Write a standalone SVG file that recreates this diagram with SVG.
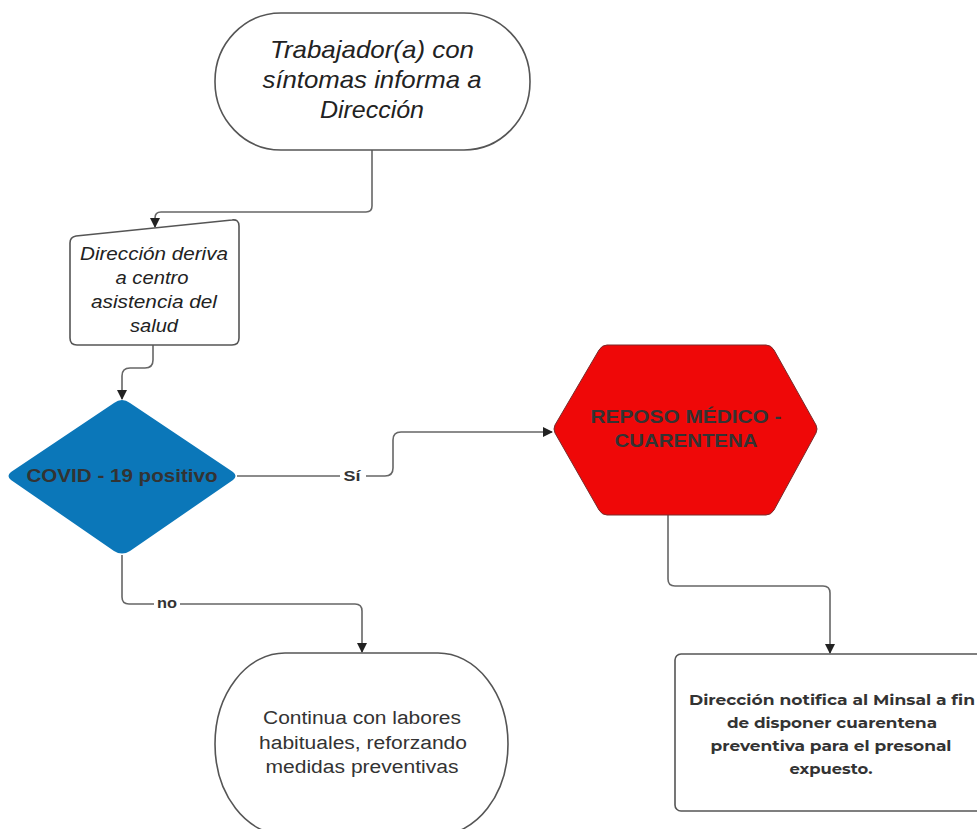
<svg xmlns="http://www.w3.org/2000/svg" width="977" height="829" viewBox="0 0 977 829">
<style>
.shape{stroke:#555;stroke-width:1.6;fill:#fff}
.conn{fill:none;stroke:#666;stroke-width:1.6}
.it{font-family:"Liberation Sans",Arial,sans-serif;font-style:italic;fill:#222;text-anchor:middle}
.bd{font-family:"Liberation Sans",Arial,sans-serif;font-weight:bold;fill:#333;text-anchor:middle}
.nm{font-family:"Liberation Sans",Arial,sans-serif;fill:#333;text-anchor:middle}
.mt{font-family:"Montserrat","Open Sans","Liberation Sans",sans-serif;font-weight:bold;fill:#333;text-anchor:middle}
</style>
<defs>
<marker id="arr" markerWidth="10" markerHeight="10" refX="9" refY="5" orient="auto" markerUnits="userSpaceOnUse">
<path d="M0,0 L10,5 L0,10 Z" fill="#222"/>
</marker>
</defs>
<rect width="977" height="829" fill="#fff"/>
<g id="connectors">
<path class="conn" d="M372,150 V206 Q372,212 366,212 H161 Q155,212 155,218 V227" marker-end="url(#arr)"/>
<path class="conn" d="M153,345 V360 Q153,368 145,368 H130 Q122,368 122,376 V399" marker-end="url(#arr)"/>
<path class="conn" d="M237,476 H385 Q393,476 393,468 V440 Q393,432 401,432 H552" marker-end="url(#arr)"/>
<path class="conn" d="M668,515 V579 Q668,586 675,586 H823 Q830,586 830,593 V653" marker-end="url(#arr)"/>
<path class="conn" d="M122,555 V597 Q122,604 129,604 H355 Q362,604 362,611 V652" marker-end="url(#arr)"/>
<rect x="340" y="466" width="26" height="18" fill="#fff"/>
<text class="bd" x="352" y="481" font-size="15" textLength="17" lengthAdjust="spacingAndGlyphs">Sí</text>
<rect x="154" y="595" width="26" height="16" fill="#fff"/>
<text class="bd" x="167" y="608" font-size="14" textLength="20" lengthAdjust="spacingAndGlyphs">no</text>
</g>
<g id="n1">
<rect class="shape" x="215" y="13" width="315" height="137" rx="66" ry="68"/>
<text class="it" x="372" y="58" font-size="24" textLength="204" lengthAdjust="spacingAndGlyphs">Trabajador(a) con</text>
<text class="it" x="372" y="88" font-size="24" textLength="219" lengthAdjust="spacingAndGlyphs">síntomas informa a</text>
<text class="it" x="372" y="118" font-size="24" textLength="104" lengthAdjust="spacingAndGlyphs">Dirección</text>
</g>
<g id="n2">
<path class="shape" d="M76,236 L232,220 Q239,219 239,226 V338 Q239,345 232,345 H77 Q70,345 70,338 V243 Q70,237 76,236 Z"/>
<text class="it" x="154" y="260" font-size="18" textLength="148" lengthAdjust="spacingAndGlyphs">Dirección deriva</text>
<text class="it" x="152" y="284" font-size="18" textLength="73" lengthAdjust="spacingAndGlyphs">a centro</text>
<text class="it" x="154" y="308" font-size="18" textLength="126" lengthAdjust="spacingAndGlyphs">asistencia del</text>
<text class="it" x="154" y="332" font-size="18" textLength="48" lengthAdjust="spacingAndGlyphs">salud</text>
</g>
<g id="n3">
<path d="M122,400 Q126,400 130,403 L233,472 Q238,476 233,480 L130,551 Q122,556 114,551 L11,480 Q6,476 11,472 L114,403 Q118,400 122,400 Z" fill="#0b77b9"/>
<text class="bd" x="122" y="482" font-size="18" textLength="191" lengthAdjust="spacingAndGlyphs">COVID - 19 positivo</text>
</g>
<g id="n4">
<path d="M607,345 H766 Q771,345 774,350 L816,425 Q818,429 816,433 L774,510 Q771,515 766,515 H607 Q602,515 599,510 L555,433 Q553,429 555,425 L599,350 Q602,345 607,345 Z" fill="#ef0808" stroke="#7a2a2a" stroke-width="1"/>
<text class="bd" x="686" y="423" font-size="18" textLength="191" lengthAdjust="spacingAndGlyphs">REPOSO MÉDICO -</text>
<text class="bd" x="686" y="447" font-size="18" textLength="143" lengthAdjust="spacingAndGlyphs">CUARENTENA</text>
</g>
<g id="n5">
<rect class="shape" x="215" y="653" width="293" height="182" rx="70" ry="91"/>
<text class="nm" x="362" y="724" font-size="18" textLength="198" lengthAdjust="spacingAndGlyphs">Continua con labores</text>
<text class="nm" x="363" y="749" font-size="18" textLength="208" lengthAdjust="spacingAndGlyphs">habituales, reforzando</text>
<text class="nm" x="362" y="773" font-size="18" textLength="193" lengthAdjust="spacingAndGlyphs">medidas preventivas</text>
</g>
<g id="n6">
<rect class="shape" x="675" y="654" width="320" height="157" rx="6"/>
<text class="mt" x="832" y="705" font-size="15" textLength="286" lengthAdjust="spacingAndGlyphs">Dirección notifica al Minsal a fin</text>
<text class="mt" x="832" y="728" font-size="15" textLength="210" lengthAdjust="spacingAndGlyphs">de disponer cuarentena</text>
<text class="mt" x="831" y="751" font-size="15" textLength="241" lengthAdjust="spacingAndGlyphs">preventiva para el presonal</text>
<text class="mt" x="831" y="774" font-size="15" textLength="83" lengthAdjust="spacingAndGlyphs">expuesto.</text>
</g>
</svg>
